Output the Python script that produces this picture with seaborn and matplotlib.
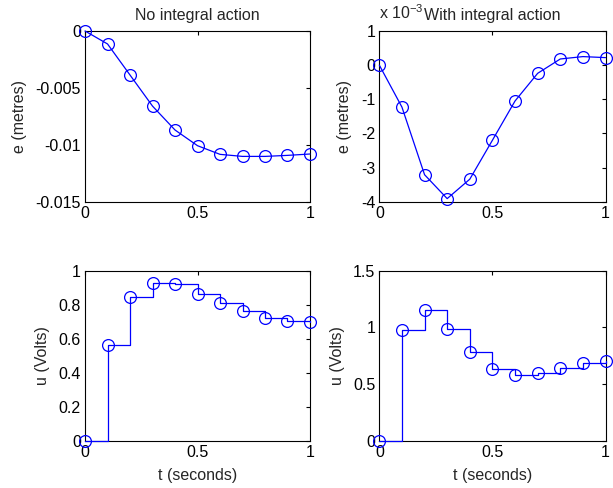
import matplotlib
matplotlib.use('Agg')
import matplotlib.pyplot as plt
import seaborn as sns
import pandas as pd
from matplotlib.ticker import FuncFormatter

# sample times (s)
t = [0.0, 0.1, 0.2, 0.3, 0.4, 0.5, 0.6, 0.7, 0.8, 0.9, 1.0]

# error without integral action (metres)
e_no_int = [0.0, -0.00114, -0.00387, -0.0066, -0.0087, -0.01008,
            -0.01084, -0.01102, -0.01102, -0.01093, -0.01081]
# error with integral action (units of 1e-3 metres)
e_int_milli = [0.0, -1.23, -3.21, -3.91, -3.34, -2.2,
               -1.05, -0.24, 0.18, 0.25, 0.22]
# control input without integral action (Volts)
u_no_int = [0.0, 0.563, 0.845, 0.928, 0.922, 0.865,
            0.81, 0.761, 0.724, 0.704, 0.696]
# control input with integral action (Volts)
u_int = [0.0, 0.976, 1.154, 0.987, 0.779, 0.633,
         0.58, 0.598, 0.642, 0.686, 0.703]

sns.set_style('white')
plt.rcParams['font.family'] = ['Liberation Sans', 'DejaVu Sans']
plt.rcParams['axes.unicode_minus'] = False
plt.rcParams['mathtext.fontset'] = 'custom'
plt.rcParams['mathtext.rm'] = 'Liberation Sans'

FS = 11.5
fig = plt.figure(figsize=(6.13, 4.88), dpi=100)
positions = {
    'tl': [0.1387, 0.5867, 0.367, 0.3498],
    'tr': [0.6188, 0.5867, 0.369, 0.3498],
    'bl': [0.1387, 0.0969, 0.367, 0.3484],
    'br': [0.6188, 0.0969, 0.369, 0.3484],
}

blue = '#0000FF'
fmt = FuncFormatter(lambda v, p: f'{v:g}')


def panel(key, y, steps, ylim, yticks, ylabel):
    ax = fig.add_axes(positions[key])
    df = pd.DataFrame({'t': t, 'y': y})
    sns.lineplot(data=df, x='t', y='y', ax=ax, color=blue, lw=0.9,
                 marker='o', markersize=8.5, markerfacecolor='none',
                 markeredgecolor=blue, markeredgewidth=0.9,
                 drawstyle='steps-post' if steps else 'default',
                 clip_on=False, zorder=3)
    ax.set_xlim(0, 1)
    ax.set_ylim(*ylim)
    ax.set_xticks([0, 0.5, 1])
    ax.set_yticks(yticks)
    ax.xaxis.set_major_formatter(fmt)
    ax.yaxis.set_major_formatter(fmt)
    ax.tick_params(direction='in', length=3, width=0.8, top=True, right=True,
                   labelsize=FS, colors='black', pad=3)
    for s in ax.spines.values():
        s.set_color('black')
        s.set_linewidth(0.8)
    ax.set_ylabel(ylabel, fontsize=FS, labelpad=6)
    ax.set_xlabel('')
    return ax


ax1 = panel('tl', e_no_int, False, (-0.015, 0), [-0.015, -0.01, -0.005, 0], 'e (metres)')
ax1.set_title('No integral action', fontsize=FS, pad=8)

ax2 = panel('tr', e_int_milli, False, (-4, 1), [-4, -3, -2, -1, 0, 1], 'e (metres)')
ax2.set_title('With integral action', fontsize=FS, pad=8)
ax2.text(0.0, 1.055, 'x 10$^{-3}$', transform=ax2.transAxes,
         ha='left', va='bottom', fontsize=FS)

ax3 = panel('bl', u_no_int, True, (0, 1), [0, 0.2, 0.4, 0.6, 0.8, 1], 'u (Volts)')
ax3.set_xlabel('t (seconds)', fontsize=FS, labelpad=6)

ax4 = panel('br', u_int, True, (0, 1.5), [0, 0.5, 1, 1.5], 'u (Volts)')
ax4.set_xlabel('t (seconds)', fontsize=FS, labelpad=6)

fig.savefig('out.png', dpi=100)
